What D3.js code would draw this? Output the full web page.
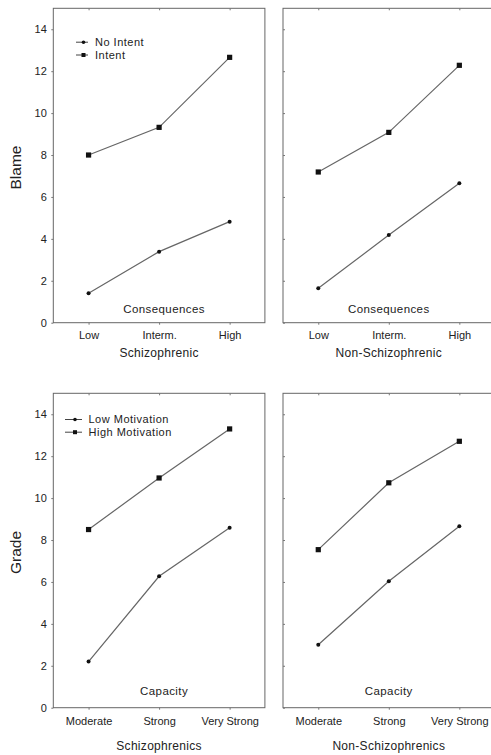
<!DOCTYPE html>
<html>
<head>
<meta charset="utf-8">
<script src="https://cdn.jsdelivr.net/npm/d3@7"></script>
<style>
  body { margin: 0; background: #fff; overflow: hidden; }
  svg { display: block; overflow: hidden; font-family: "Liberation Sans", Arial, sans-serif; }
  text { fill: #222; }
</style>
</head>
<body>
<svg></svg>
<script>
// Kategorier og ticks
const consequences = ["Low", "Interm.", "High"];
const capacity = ["Moderate", "Strong", "Very Strong"];
const yTicks = [0, 2, 4, 6, 8, 10, 12, 14];

// Blame (øverste række)
const blameSchizNoIntent = [1.4, 3.39, 4.82];
const blameSchizIntent = [8.0, 9.32, 12.66];
const blameNonNoIntent = [1.64, 4.18, 6.65];
const blameNonIntent = [7.19, 9.08, 12.28];

// Grade (nederste række)
const gradeSchizLow = [2.2, 6.27, 8.58];
const gradeSchizHigh = [8.5, 10.96, 13.3];
const gradeNonLow = [3.0, 6.03, 8.66];
const gradeNonHigh = [7.54, 10.73, 12.71];

const blameLegend = ["No Intent", "Intent"];
const gradeLegend = ["Low Motivation", "High Motivation"];

// Dimensioner
const width = 491;
const height = 755;
const colX = [53.3, 283];
const rowY = [8.3, 393.3];
const panelW = 211.6;
const panelH = 314.4;

const svg = d3.select("svg")
  .attr("width", width)
  .attr("height", height);

// Paneler bygges ud fra arrays
const rows = [
  {
    yLabel: "Blame", inner: "Consequences", cats: consequences, legend: blameLegend,
    legendX: [76, 88, 95], legendY: [42.2, 55], tickDy: 12.5, titleDy: 30.5, innerDy: -14,
    panels: [
      { title: "Schizophrenic", low: blameSchizNoIntent, high: blameSchizIntent },
      { title: "Non-Schizophrenic", low: blameNonNoIntent, high: blameNonIntent }
    ]
  },
  {
    yLabel: "Grade", inner: "Capacity", cats: capacity, legend: gradeLegend,
    legendX: [65, 82, 88.5], legendY: [419.5, 432.2], tickDy: 13, titleDy: 38, innerDy: -17,
    panels: [
      { title: "Schizophrenics", low: gradeSchizLow, high: gradeSchizHigh },
      { title: "Non-Schizophrenics", low: gradeNonLow, high: gradeNonHigh }
    ]
  }
];

rows.forEach((row, ri) => {
  const y0 = rowY[ri];
  const yScale = d3.scaleLinear()
    .domain([0, 15])
    .range([y0 + panelH, y0]);

  row.panels.forEach((p, ci) => {
    const x0 = colX[ci];
    const xScale = d3.scalePoint()
      .domain(row.cats)
      .range([x0, x0 + panelW])
      .padding(0.5);

    const g = svg.append("g");

    // Rammen
    g.append("rect")
      .attr("x", x0)
      .attr("y", y0)
      .attr("width", panelW)
      .attr("height", panelH)
      .attr("fill", "none")
      .attr("stroke", "#666")
      .attr("stroke-width", 1);

    // Y-akse (kun labels på venstre panel)
    const yAxis = g.append("g")
      .attr("transform", `translate(${x0},0)`)
      .call(d3.axisLeft(yScale).tickValues(yTicks).tickSizeInner(ci === 0 ? 2 : -2).tickSizeOuter(0)
        .tickFormat(ci === 0 ? d3.format("d") : ""));
    yAxis.select(".domain").remove();
    yAxis.selectAll("line").attr("stroke", "#777");
    yAxis.selectAll("text")
      .attr("x", -6.5)
      .style("font-size", "11px")
      .style("fill", "#222");

    // X-akse
    const xAxis = g.append("g")
      .attr("transform", `translate(0,${y0 + panelH})`)
      .call(d3.axisBottom(xScale).tickSizeInner(2).tickSizeOuter(0));
    xAxis.select(".domain").remove();
    xAxis.selectAll("line").attr("stroke", "#777");
    xAxis.selectAll("text")
      .attr("y", row.tickDy)
      .attr("dy", "0.35em")
      .style("font-size", "11px")
      .style("fill", "#222");

    // Små ticks i toppen
    g.append("g")
      .attr("transform", `translate(0,${y0})`)
      .call(d3.axisTop(xScale).tickSizeInner(-2).tickSizeOuter(0).tickFormat(""))
      .call(a => a.select(".domain").remove())
      .selectAll("line").attr("stroke", "#777");

    // Linjer
    const line = d3.line()
      .x((d, i) => xScale(row.cats[i]))
      .y(d => yScale(d));

    [p.low, p.high].forEach(vals => {
      g.append("path")
        .datum(vals)
        .attr("d", line)
        .attr("fill", "none")
        .attr("stroke", "#666")
        .attr("stroke-width", 1.2);
    });

    // Markører: små cirkler for lav, firkanter for høj
    g.selectAll(".dotLow")
      .data(p.low)
      .join("circle")
      .attr("cx", (d, i) => xScale(row.cats[i]))
      .attr("cy", d => yScale(d))
      .attr("r", 2)
      .attr("fill", "#111");

    g.selectAll(".dotHigh")
      .data(p.high)
      .join("rect")
      .attr("x", (d, i) => xScale(row.cats[i]) - 2.6)
      .attr("y", d => yScale(d) - 2.6)
      .attr("width", 5.2)
      .attr("height", 5.2)
      .attr("fill", "#111");

    // Inder-label (Consequences / Capacity)
    g.append("text")
      .attr("x", x0 + panelW / 2 + (ci === 0 ? 5 : 0))
      .attr("y", y0 + panelH + row.innerDy)
      .attr("dy", "0.35em")
      .attr("text-anchor", "middle")
      .style("font-size", "11.5px")
      .style("letter-spacing", "0.4px")
      .text(row.inner);

    // Titel under panelet
    g.append("text")
      .attr("x", x0 + panelW / 2)
      .attr("y", y0 + panelH + row.titleDy)
      .attr("dy", "0.35em")
      .attr("text-anchor", "middle")
      .style("font-size", "12px")
      .style("letter-spacing", "0.3px")
      .text(p.title);

    // Legende kun i venstre panel
    if (ci === 0) {
      row.legend.forEach((name, li) => {
        const ly = row.legendY[li];
        g.append("line")
          .attr("x1", row.legendX[0])
          .attr("x2", row.legendX[1])
          .attr("y1", ly)
          .attr("y2", ly)
          .attr("stroke", "#444")
          .attr("stroke-width", 1);
        const mx = (row.legendX[0] + row.legendX[1]) / 2 + 1.5;
        if (li === 0) {
          g.append("circle").attr("cx", mx).attr("cy", ly).attr("r", 1.8).attr("fill", "#111");
        } else {
          g.append("rect").attr("x", mx - 2).attr("y", ly - 2).attr("width", 4).attr("height", 4).attr("fill", "#111");
        }
        g.append("text")
          .attr("x", row.legendX[2])
          .attr("y", ly)
          .attr("dy", "0.35em")
          .style("font-size", "11px")
          .style("letter-spacing", "0.5px")
          .text(name);
      });
    }
  });

  // Y-akse titel
  svg.append("text")
    .attr("transform", `translate(16,${y0 + panelH / 2 + 2}) rotate(-90)`)
    .attr("dy", "0.35em")
    .attr("text-anchor", "middle")
    .style("font-size", "15.5px")
    .text(row.yLabel);
});
</script>
</body>
</html>
